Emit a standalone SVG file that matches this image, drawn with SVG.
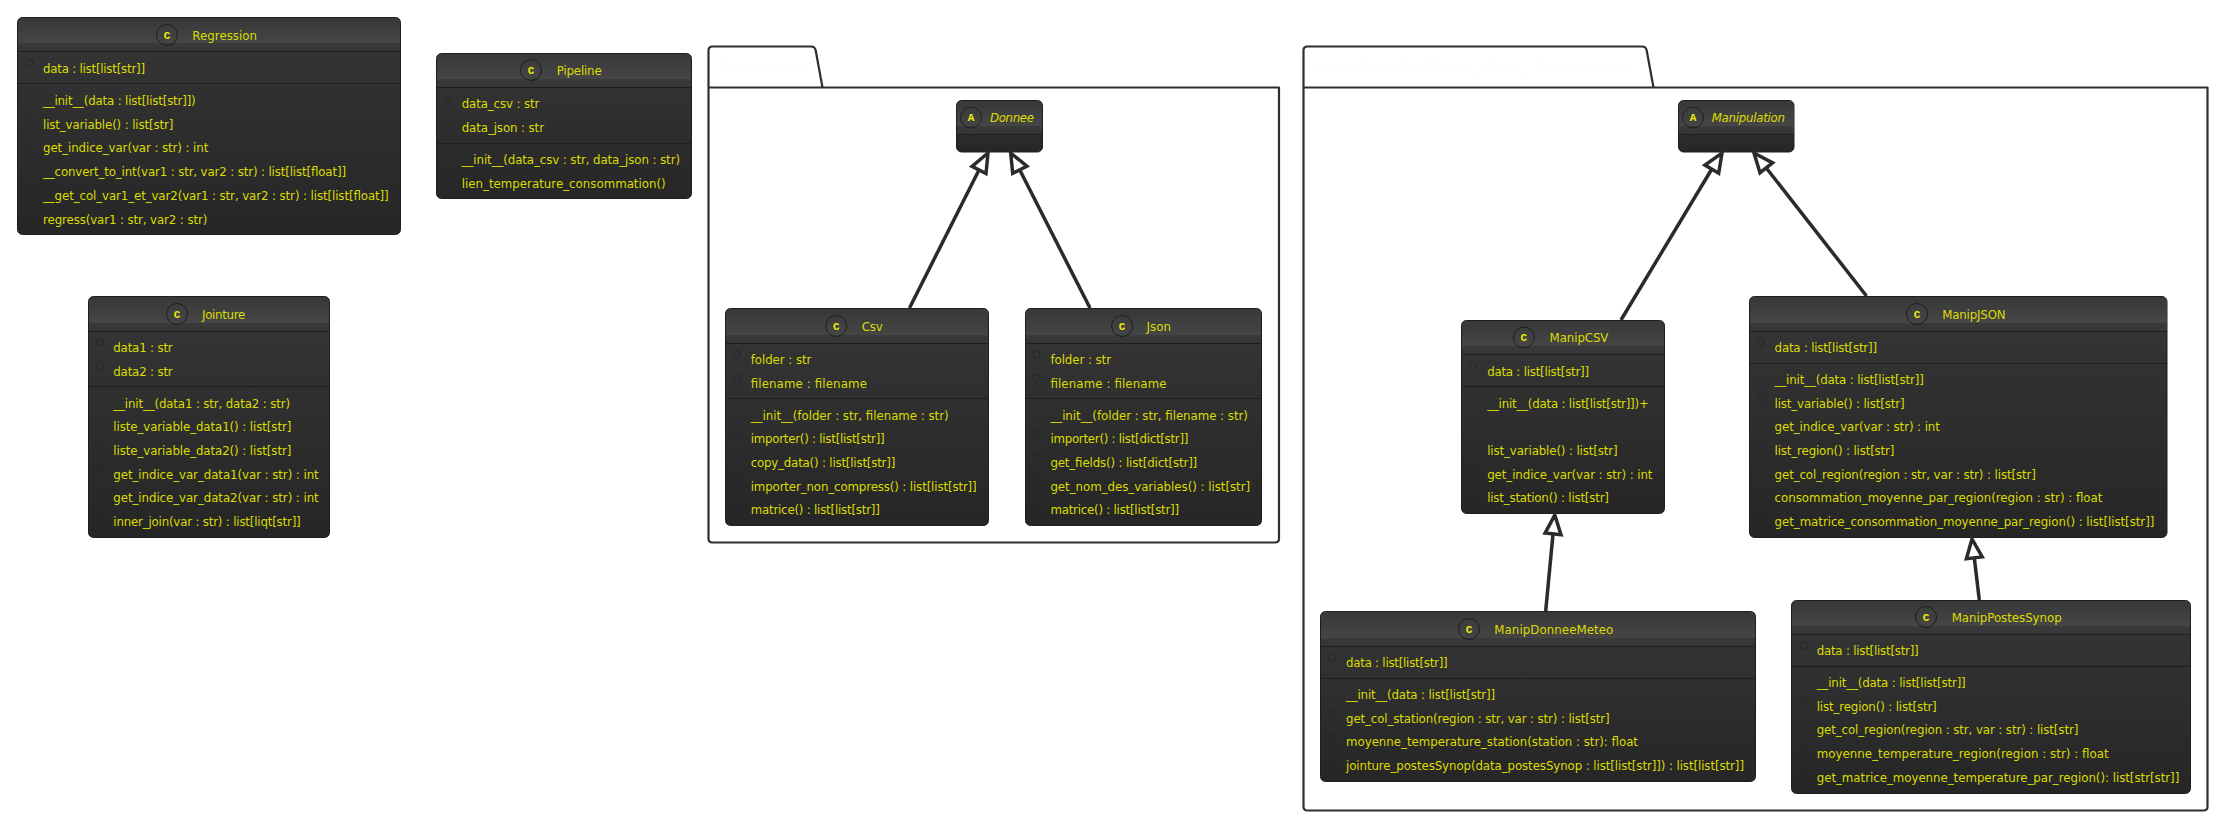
<svg xmlns="http://www.w3.org/2000/svg" width="2219" height="821" viewBox="0 0 2219 821">
<style>
text{font-family:"DejaVu Sans",sans-serif;font-size:11.8px;fill:#dcdc00}
.box{fill:url(#body);stroke:#1e1e1e;stroke-width:1}
.hd{fill:url(#head)}
.sep{stroke:#1e1e1e;stroke-width:1}
.hsep{stroke:#1e1e1e;stroke-width:1.2}
.ico{fill:none;stroke:#262626;stroke-width:1}
.mark{fill:none;stroke:#1e1e1e;stroke-width:1}
.mt{font-family:"Liberation Mono",monospace;font-weight:bold;font-size:11px;text-anchor:middle;fill:#f0f000}
.pkg{fill:none;stroke:#2f2f2f;stroke-width:2.2;stroke-linejoin:round}
.pl{font-size:16px;font-weight:bold;fill:#fefefe}
.a{fill:none;stroke:#2b2b2b;stroke-width:3.5}
.h{fill:#fff;stroke:#2b2b2b;stroke-width:3.5}
</style>
<defs>
<linearGradient id="body" x1="0" y1="0" x2="0" y2="1"><stop offset="0" stop-color="#363636"/><stop offset="1" stop-color="#262626"/></linearGradient>
<linearGradient id="head" x1="0" y1="0" x2="0" y2="1"><stop offset="0" stop-color="#383838"/><stop offset="0.75" stop-color="#454545"/><stop offset="0.76" stop-color="#3a3a3a"/><stop offset="1" stop-color="#353535"/></linearGradient>
</defs>
<rect width="2219" height="821" fill="#fff"/>

<g id="pkg-donnee">
<path class="pkg" d="M708.5 87.5V50.5Q708.5 46.5 712.5 46.5H811Q815 46.5 815.7 50.5L822.500 87.5H1279V538.5Q1279 542.5 1275 542.5H712.5Q708.5 542.5 708.5 538.5V87.5H822.500"/>
<text class="pl" x="720" y="72" textLength="87">donnee</text>
</g>
<g id="pkg-manipulation">
<path class="pkg" d="M1303.5 87.5V50.5Q1303.5 46.5 1307.5 46.5H1642Q1646 46.5 1646.7 50.500L1653.5 87.5H2207.5V806.5Q2207.5 810.5 2203.5 810.5H1307.5Q1303.5 810.5 1303.5 806.5V87.5H1653.5"/>
<text class="pl" x="1313" y="72" textLength="317">manipulation_des_donnees</text>
</g>

<g id="Regression">
<rect class="box" x="17.5" y="17.5" width="383" height="217" rx="5"/>
<path class="hd" d="M18 51V23Q18 18 23 18H395Q400 18 400 23V51Z"/>
<line class="hsep" x1="18" x2="400" y1="51.5" y2="51.5"/><line class="sep" x1="18" x2="400" y1="83.5" y2="83.5"/>
<circle class="mark" cx="167" cy="35" r="10.5"/><text class="mt" x="167" y="38.5">C</text>
<text x="192.300" y="39.500" textLength="64.700">Regression</text>
<circle class="ico" cx="29.5" cy="63" r="3.5"/><text x="43" y="72.5" textLength="102">data : list[list[str]]</text>
<text x="43" y="104.5" textLength="152.700">__init__(data : list[list[str]])</text>
<circle class="ico" cx="29.5" cy="119" r="3.5"/><text x="43" y="128.5" textLength="130.300">list_variable() : list[str]</text>
<circle class="ico" cx="29.5" cy="143" r="3.5"/><text x="43" y="152" textLength="165.300">get_indice_var(var : str) : int</text>
<rect class="ico" x="26.5" y="163.5" width="6" height="6"/><text x="43" y="176" textLength="303">__convert_to_int(var1 : str, var2 : str) : list[list[float]]</text>
<rect class="ico" x="26.5" y="187.5" width="6" height="6"/><text x="43" y="199.5" textLength="345.700">__get_col_var1_et_var2(var1 : str, var2 : str) : list[list[float]]</text>
<circle class="ico" cx="29.5" cy="214" r="3.5"/><text x="43" y="223.5" textLength="164.300">regress(var1 : str, var2 : str)</text>
</g>

<g id="Pipeline">
<rect class="box" x="436.5" y="53.5" width="255" height="145" rx="5"/>
<path class="hd" d="M437 87V59Q437 54 442 54H686Q691 54 691 59V87Z"/>
<line class="hsep" x1="437" x2="691" y1="87.5" y2="87.5"/><line class="sep" x1="437" x2="691" y1="143.5" y2="143.5"/>
<circle class="mark" cx="531" cy="70" r="10.5"/><text class="mt" x="531" y="73.5">C</text>
<text x="556.700" y="74.500" textLength="45">Pipeline</text>
<circle class="ico" cx="448" cy="98.5" r="3.5"/><text x="461.700" y="108" textLength="77.600">data_csv : str</text>
<circle class="ico" cx="448" cy="122.5" r="3.5"/><text x="461.700" y="131.5" textLength="82.300">data_json : str</text>
<text x="461.700" y="164" textLength="218.300">__init__(data_csv : str, data_json : str)</text>
<circle class="ico" cx="448" cy="178.5" r="3.5"/><text x="461.700" y="187.5" textLength="204">lien_temperature_consommation()</text>
</g>

<g id="Jointure">
<rect class="box" x="88.5" y="296.5" width="241" height="241" rx="5"/>
<path class="hd" d="M89 331V302Q89 297 94 297H324Q329 297 329 302V331Z"/>
<line class="hsep" x1="89" x2="329" y1="331.5" y2="331.5"/><line class="sep" x1="89" x2="329" y1="386.5" y2="386.5"/>
<circle class="mark" cx="177" cy="314" r="10.5"/><text class="mt" x="177" y="317.5">C</text>
<text x="202" y="318.500" textLength="43.300">Jointure</text>
<circle class="ico" cx="99.5" cy="342.5" r="3.5"/><text x="113.300" y="352" textLength="59.400">data1 : str</text>
<circle class="ico" cx="99.5" cy="366" r="3.5"/><text x="113.300" y="375.5" textLength="59.400">data2 : str</text>
<text x="113.300" y="407.5" textLength="176.700">__init__(data1 : str, data2 : str)</text>
<circle class="ico" cx="99.5" cy="422" r="3.5"/><text x="113.300" y="431" textLength="178">liste_variable_data1() : list[str]</text>
<circle class="ico" cx="99.5" cy="445.5" r="3.5"/><text x="113.300" y="455" textLength="178">liste_variable_data2() : list[str]</text>
<circle class="ico" cx="99.5" cy="469" r="3.5"/><text x="113.300" y="478.5" textLength="205.400">get_indice_var_data1(var : str) : int</text>
<circle class="ico" cx="99.5" cy="493" r="3.5"/><text x="113.300" y="502" textLength="205.400">get_indice_var_data2(var : str) : int</text>
<circle class="ico" cx="99.5" cy="516.5" r="3.5"/><text x="113.300" y="526" textLength="187.400">inner_join(var : str) : list[liqt[str]]</text>
</g>

<g id="Donnee">
<rect class="box" x="956.5" y="100.5" width="86" height="51.5" rx="5"/>
<path class="hd" d="M957 134V106Q957 101 962 101H1037Q1042 101 1042 106V134Z"/>
<line class="hsep" x1="957" x2="1042" y1="134.5" y2="134.5"/>
<circle class="mark" cx="971" cy="117.5" r="10.5"/><text class="mt" x="971" y="121">A</text>
<text font-style="italic" x="990" y="122" textLength="44">Donnee</text>
</g>

<g id="Csv">
<rect class="box" x="725.5" y="308.5" width="263" height="217" rx="5"/>
<path class="hd" d="M726 343V314Q726 309 731 309H983Q988 309 988 314V343Z"/>
<line class="hsep" x1="726" x2="988" y1="343.5" y2="343.5"/><line class="sep" x1="726" x2="988" y1="398.5" y2="398.5"/>
<circle class="mark" cx="836.200" cy="326" r="10.5"/><text class="mt" x="836.2" y="329.5">C</text>
<text x="861.700" y="330.500" textLength="21">Csv</text>
<circle class="ico" cx="736.600" cy="354.500" r="3.5"/><text x="750.700" y="364" textLength="60.700">folder : str</text>
<circle class="ico" cx="736.600" cy="378" r="3.5"/><text x="750.700" y="387.500" textLength="116.200">filename : filename</text>
<text x="750.700" y="419.500" textLength="197.900">__init__(folder : str, filename : str)</text>
<circle class="ico" cx="736.600" cy="434" r="3.5"/><text x="750.700" y="443" textLength="133.900">importer() : list[list[str]]</text>
<circle class="ico" cx="736.600" cy="457.500" r="3.5"/><text x="750.700" y="467" textLength="144.600">copy_data() : list[list[str]]</text>
<circle class="ico" cx="736.600" cy="481" r="3.5"/><text x="750.700" y="490.500" textLength="226">importer_non_compress() : list[list[str]]</text>
<circle class="ico" cx="736.600" cy="505" r="3.5"/><text x="750.700" y="514" textLength="129.100">matrice() : list[list[str]]</text>
</g>

<g id="Json">
<rect class="box" x="1025.5" y="308.5" width="236" height="217" rx="5"/>
<path class="hd" d="M1026 343V314Q1026 309 1031 309H1256Q1261 309 1261 314V343Z"/>
<line class="hsep" x1="1026" x2="1261" y1="343.5" y2="343.5"/><line class="sep" x1="1026" x2="1261" y1="398.5" y2="398.5"/>
<circle class="mark" cx="1122.100" cy="326" r="10.5"/><text class="mt" x="1122.1" y="329.5">C</text>
<text x="1146.600" y="330.500" textLength="24.400">Json</text>
<circle class="ico" cx="1036.700" cy="354.500" r="3.5"/><text x="1050.400" y="364" textLength="60.600">folder : str</text>
<circle class="ico" cx="1036.700" cy="378" r="3.5"/><text x="1050.400" y="387.500" textLength="116.100">filename : filename</text>
<text x="1050.400" y="419.500" textLength="197.500">__init__(folder : str, filename : str)</text>
<circle class="ico" cx="1036.700" cy="434" r="3.5"/><text x="1050.400" y="443" textLength="138">importer() : list[dict[str]]</text>
<circle class="ico" cx="1036.700" cy="457.500" r="3.5"/><text x="1050.400" y="467" textLength="146.800">get_fields() : list[dict[str]]</text>
<circle class="ico" cx="1036.700" cy="481" r="3.5"/><text x="1050.400" y="490.500" textLength="199.700">get_nom_des_variables() : list[str]</text>
<circle class="ico" cx="1036.700" cy="505" r="3.5"/><text x="1050.400" y="514" textLength="128.700">matrice() : list[list[str]]</text>
</g>

<g id="Manipulation">
<rect class="box" x="1678.5" y="100.5" width="115.500" height="51.500" rx="5"/>
<path class="hd" d="M1679 134V106Q1679 101 1684 101H1789Q1794 101 1794 106V134Z"/>
<line class="hsep" x1="1679" x2="1794" y1="134.5" y2="134.5"/>
<circle class="mark" cx="1693" cy="117.5" r="10.5"/><text class="mt" x="1693" y="121">A</text>
<text font-style="italic" x="1711.700" y="122" textLength="73.300">Manipulation</text>
</g>

<g id="ManipCSV">
<rect class="box" x="1461.5" y="320.5" width="203" height="193" rx="5"/>
<path class="hd" d="M1462 354V326Q1462 321 1467 321H1659Q1664 321 1664 326V354Z"/>
<line class="hsep" x1="1462" x2="1664" y1="354.5" y2="354.5"/><line class="sep" x1="1462" x2="1664" y1="386.5" y2="386.5"/>
<circle class="mark" cx="1523.900" cy="337.500" r="10.5"/><text class="mt" x="1523.9" y="341">C</text>
<text x="1549.600" y="342" textLength="58.800">ManipCSV</text>
<circle class="ico" cx="1473" cy="366" r="3.5"/><text x="1487.200" y="375.500" textLength="101.900">data : list[list[str]]</text>
<text x="1487.200" y="407.500" textLength="161.600">__init__(data : list[list[str]])+</text>
<circle class="ico" cx="1473" cy="445.500" r="3.5"/><text x="1487.200" y="455" textLength="130.400">list_variable() : list[str]</text>
<circle class="ico" cx="1473" cy="469" r="3.5"/><text x="1487.200" y="478.500" textLength="165.300">get_indice_var(var : str) : int</text>
<circle class="ico" cx="1473" cy="493" r="3.5"/><text x="1487.200" y="502" textLength="121.700">list_station() : list[str]</text>
</g>

<g id="ManipJSON">
<rect class="box" x="1749.5" y="296.5" width="417.500" height="241" rx="5"/>
<path class="hd" d="M1750 331V302Q1750 297 1755 297H2162Q2167 297 2167 302V331Z"/>
<line class="hsep" x1="1750" x2="2167" y1="331.5" y2="331.5"/><line class="sep" x1="1750" x2="2167" y1="363.5" y2="363.5"/>
<circle class="mark" cx="1917" cy="314" r="10.5"/><text class="mt" x="1917" y="317.5">C</text>
<text x="1942.200" y="318.500" textLength="63.400">ManipJSON</text>
<circle class="ico" cx="1760.800" cy="342.500" r="3.5"/><text x="1774.600" y="352" textLength="102.400">data : list[list[str]]</text>
<text x="1774.600" y="384" textLength="149.200">__init__(data : list[list[str]]</text>
<circle class="ico" cx="1760.800" cy="398.500" r="3.5"/><text x="1774.600" y="407.500" textLength="129.900">list_variable() : list[str]</text>
<circle class="ico" cx="1760.800" cy="422" r="3.5"/><text x="1774.600" y="431" textLength="165.300">get_indice_var(var : str) : int</text>
<circle class="ico" cx="1760.800" cy="445.500" r="3.5"/><text x="1774.600" y="455" textLength="119.800">list_region() : list[str]</text>
<circle class="ico" cx="1760.800" cy="469" r="3.5"/><text x="1774.600" y="478.500" textLength="261.300">get_col_region(region : str, var : str) : list[str]</text>
<circle class="ico" cx="1760.800" cy="493" r="3.5"/><text x="1774.600" y="502" textLength="327.800">consommation_moyenne_par_region(region : str) : float</text>
<circle class="ico" cx="1760.800" cy="516.500" r="3.5"/><text x="1774.600" y="526" textLength="379.700">get_matrice_consommation_moyenne_par_region() : list[list[str]]</text>
</g>

<g id="ManipDonneeMeteo">
<rect class="box" x="1320.5" y="611.5" width="435" height="170" rx="5"/>
<path class="hd" d="M1321 646V617Q1321 612 1326 612H1750Q1755 612 1755 617V646Z"/>
<line class="hsep" x1="1321" x2="1755" y1="646.5" y2="646.5"/><line class="sep" x1="1321" x2="1755" y1="678.5" y2="678.5"/>
<circle class="mark" cx="1469" cy="629" r="10.5"/><text class="mt" x="1469" y="632.5">C</text>
<text x="1494.300" y="633.500" textLength="119">ManipDonneeMeteo</text>
<circle class="ico" cx="1332.5" cy="657.500" r="3.5"/><text x="1346" y="667" textLength="101.700">data : list[list[str]]</text>
<text x="1346" y="699" textLength="149">__init__(data : list[list[str]]</text>
<circle class="ico" cx="1332.5" cy="713.500" r="3.5"/><text x="1346" y="722.500" textLength="263.700">get_col_station(region : str, var : str) : list[str]</text>
<circle class="ico" cx="1332.5" cy="737" r="3.5"/><text x="1346" y="746" textLength="292">moyenne_temperature_station(station : str): float</text>
<circle class="ico" cx="1332.5" cy="760.500" r="3.5"/><text x="1346" y="770" textLength="398">jointure_postesSynop(data_postesSynop : list[list[str]]) : list[list[str]]</text>
</g>

<g id="ManipPostesSynop">
<rect class="box" x="1791.5" y="600.5" width="399" height="193" rx="5"/>
<path class="hd" d="M1792 634V606Q1792 601 1797 601H2185Q2190 601 2190 606V634Z"/>
<line class="hsep" x1="1792" x2="2190" y1="634.5" y2="634.5"/><line class="sep" x1="1792" x2="2190" y1="666.5" y2="666.5"/>
<circle class="mark" cx="1926" cy="617" r="10.5"/><text class="mt" x="1926" y="620.5">C</text>
<text x="1951.700" y="621.500" textLength="110">ManipPostesSynop</text>
<circle class="ico" cx="1803.5" cy="645.500" r="3.5"/><text x="1816.700" y="655" textLength="102">data : list[list[str]]</text>
<text x="1816.700" y="687" textLength="149">__init__(data : list[list[str]]</text>
<circle class="ico" cx="1803.5" cy="701.500" r="3.5"/><text x="1816.700" y="710.500" textLength="120">list_region() : list[str]</text>
<circle class="ico" cx="1803.5" cy="725" r="3.5"/><text x="1816.700" y="734" textLength="261.600">get_col_region(region : str, var : str) : list[str]</text>
<circle class="ico" cx="1803.5" cy="748.500" r="3.5"/><text x="1816.700" y="758" textLength="292">moyenne_temperature_region(region : str) : float</text>
<circle class="ico" cx="1803.5" cy="772" r="3.5"/><text x="1816.700" y="781.500" textLength="362.600">get_matrice_moyenne_temperature_par_region(): list[str[str]]</text>
</g>

<g id="connectors">
<path class="a" d="M909.500 308L979 170"/><path class="h" d="M988 153L986 173.600L972 166.400Z"/>
<path class="a" d="M1090 308L1019.800 170"/><path class="h" d="M1010.700 153L1026.900 166.200L1012.700 173.400Z"/>
<path class="a" d="M1621 320L1711.800 169"/><path class="h" d="M1722 153L1718.700 173.300L1704.900 165.100Z"/>
<path class="a" d="M1866.500 296L1766.300 168"/><path class="h" d="M1754 153L1772.600 162.900L1760 172.700Z"/>
<path class="a" d="M1545.700 611L1553 534"/><path class="h" d="M1554.800 515L1561 534.700L1545.100 533.100Z"/>
<path class="a" d="M1979.300 600L1974.300 558"/><path class="h" d="M1972 539L1982.200 556.900L1966.400 558.800Z"/>
</g>
</svg>
